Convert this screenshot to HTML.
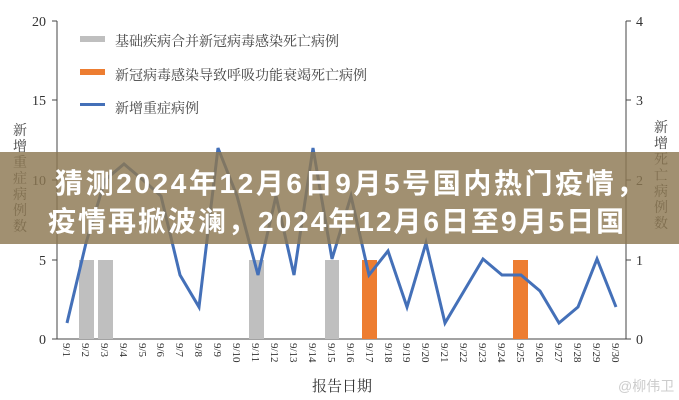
<!DOCTYPE html>
<html><head><meta charset="utf-8"><style>
body{margin:0;background:#fff;width:679px;height:400px;overflow:hidden;position:relative;font-family:"Liberation Serif","Noto Serif CJK SC",serif}
.ban{position:absolute;left:0;top:152px;width:679px;height:92px;background:rgba(140,120,82,0.82)}
.bt{position:absolute;color:#fff;font-family:"Liberation Sans","Noto Sans CJK SC",sans-serif;font-weight:bold;font-size:28px;white-space:nowrap}
</style></head><body>
<svg width="679" height="400" style="position:absolute;left:0;top:0" font-family="Liberation Serif, Noto Serif CJK SC, serif">
<g stroke="#444" stroke-width="1">
<line x1="57" y1="21" x2="57" y2="339"/><line x1="626" y1="21" x2="626" y2="339"/>
<line x1="57" y1="339" x2="626" y2="339"/>
<line x1="52" y1="21" x2="57" y2="21"/><line x1="52" y1="100" x2="57" y2="100"/><line x1="52" y1="180" x2="57" y2="180"/><line x1="52" y1="260" x2="57" y2="260"/><line x1="52" y1="339" x2="57" y2="339"/>
<line x1="626" y1="21" x2="631" y2="21"/><line x1="626" y1="100" x2="631" y2="100"/><line x1="626" y1="180" x2="631" y2="180"/><line x1="626" y1="260" x2="631" y2="260"/><line x1="626" y1="339" x2="631" y2="339"/>
</g>
<g font-size="14" fill="#333" text-anchor="end">
<text x="46" y="26">20</text><text x="46" y="105">15</text><text x="46" y="185">10</text><text x="46" y="265">5</text><text x="46" y="344">0</text>
</g>
<g font-size="14" fill="#333">
<text x="636" y="26">4</text><text x="636" y="105">3</text><text x="636" y="185">2</text><text x="636" y="265">1</text><text x="636" y="344">0</text>
</g>
<g font-size="14" fill="#444" text-anchor="middle">
<text x="20" y="135">新</text><text x="20" y="151">增</text><text x="20" y="167">重</text><text x="20" y="183">症</text><text x="20" y="199">病</text><text x="20" y="215">例</text><text x="20" y="231">数</text>
<text x="661" y="132">新</text><text x="661" y="148">增</text><text x="661" y="164">死</text><text x="661" y="180">亡</text><text x="661" y="196">病</text><text x="661" y="212">例</text><text x="661" y="228">数</text>
</g>
<g>
<rect x="79" y="260" width="15" height="79" fill="#bfbfbf"/>
<rect x="98" y="260" width="15" height="79" fill="#bfbfbf"/>
<rect x="249" y="260" width="15" height="79" fill="#bfbfbf"/>
<rect x="325" y="260" width="14" height="79" fill="#bfbfbf"/>
<rect x="362" y="260" width="15" height="79" fill="#ed7d31"/>
<rect x="513" y="260" width="15" height="79" fill="#ed7d31"/>
</g>
<polyline fill="none" stroke="#4470b8" stroke-width="3" stroke-linejoin="miter" points="67,323 86,243 105,180 124,164 143,180 161,196 180,275 199,307 218,148 237,196 258,275 276,196 294,275 313,148 332,259 351,196 369,275 388,251 407,307 426,243 445,323 464,291 483,259 502,275 521,275 540,291 559,323 578,307 597,259 616,307"/>
<rect x="80" y="36" width="25" height="6" fill="#bfbfbf"/>
<rect x="80" y="69" width="25" height="6" fill="#ed7d31"/>
<rect x="80" y="103" width="25" height="3" fill="#4470b8"/>
<g font-size="14" fill="#444">
<text x="115" y="46">基础疾病合并新冠病毒感染死亡病例</text>
<text x="115" y="80">新冠病毒感染导致呼吸功能衰竭死亡病例</text>
<text x="115" y="113">新增重症病例</text>
</g>
<text x="342" y="391" font-size="15" fill="#333" text-anchor="middle">报告日期</text>
<text x="618" y="391" font-size="14" fill="#ccc" font-family="Liberation Sans, Noto Sans CJK SC, sans-serif">@柳伟卫</text>
<g font-size="11" fill="#333">
<text transform="translate(63,343) rotate(90)">9/1</text>
<text transform="translate(82,343) rotate(90)">9/2</text>
<text transform="translate(101,343) rotate(90)">9/3</text>
<text transform="translate(120,343) rotate(90)">9/4</text>
<text transform="translate(139,343) rotate(90)">9/5</text>
<text transform="translate(157,343) rotate(90)">9/6</text>
<text transform="translate(176,343) rotate(90)">9/7</text>
<text transform="translate(195,343) rotate(90)">9/8</text>
<text transform="translate(214,343) rotate(90)">9/9</text>
<text transform="translate(233,343) rotate(90)">9/10</text>
<text transform="translate(252,343) rotate(90)">9/11</text>
<text transform="translate(271,343) rotate(90)">9/12</text>
<text transform="translate(290,343) rotate(90)">9/13</text>
<text transform="translate(309,343) rotate(90)">9/14</text>
<text transform="translate(328,343) rotate(90)">9/15</text>
<text transform="translate(347,343) rotate(90)">9/16</text>
<text transform="translate(366,343) rotate(90)">9/17</text>
<text transform="translate(385,343) rotate(90)">9/18</text>
<text transform="translate(403,343) rotate(90)">9/19</text>
<text transform="translate(422,343) rotate(90)">9/20</text>
<text transform="translate(441,343) rotate(90)">9/21</text>
<text transform="translate(460,343) rotate(90)">9/22</text>
<text transform="translate(479,343) rotate(90)">9/23</text>
<text transform="translate(498,343) rotate(90)">9/24</text>
<text transform="translate(517,343) rotate(90)">9/25</text>
<text transform="translate(536,343) rotate(90)">9/26</text>
<text transform="translate(555,343) rotate(90)">9/27</text>
<text transform="translate(574,343) rotate(90)">9/28</text>
<text transform="translate(593,343) rotate(90)">9/29</text>
<text transform="translate(612,343) rotate(90)">9/30</text>
</g>
</svg>
<div class="ban"></div>
<div class="bt" style="left:55px;top:162px;letter-spacing:2.6px">猜测2024年12月6日9月5号国内热门疫情，</div>
<div class="bt" style="left:48px;top:200px;letter-spacing:2px">疫情再掀波澜，2024年12月6日至9月5日国</div>
</body></html>
